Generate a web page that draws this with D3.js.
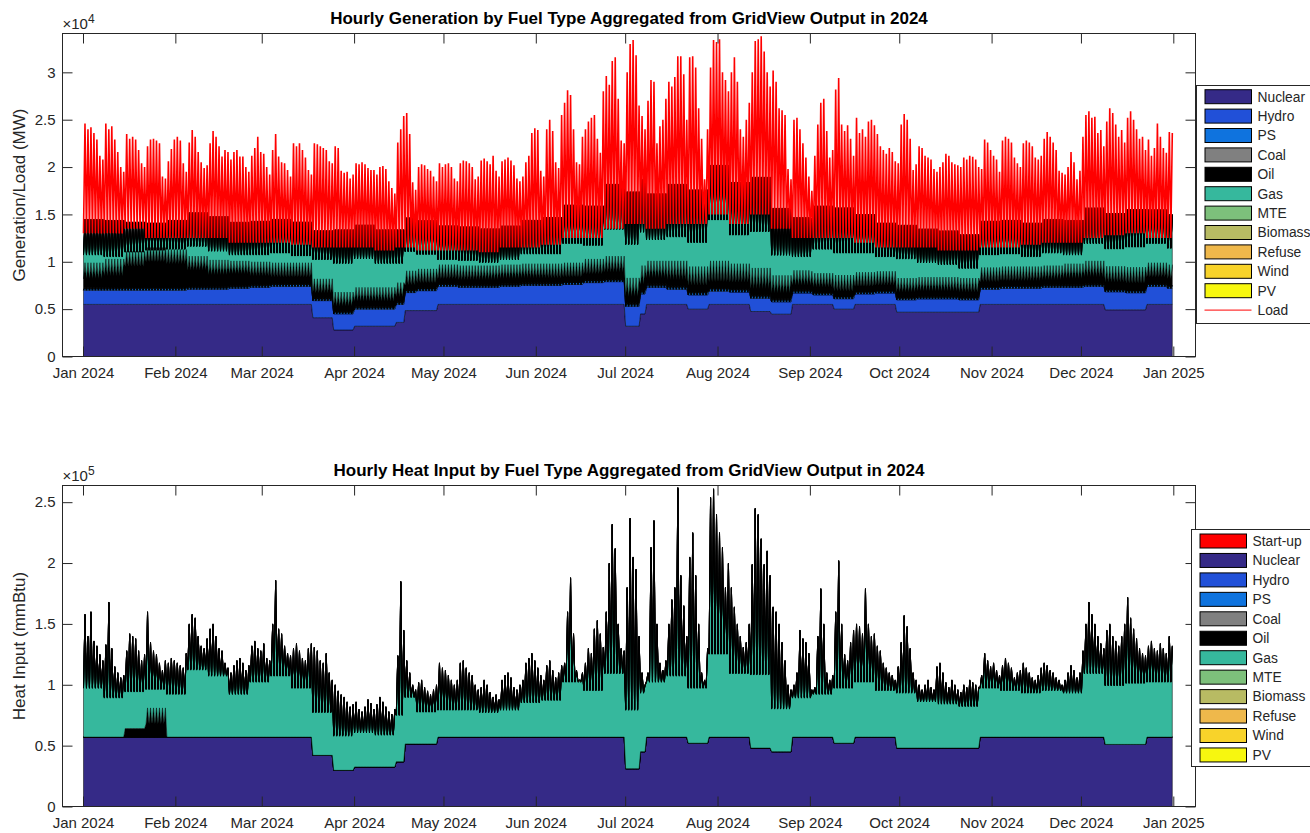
<!DOCTYPE html>
<html>
<head>
<meta charset="utf-8">
<script src="https://cdn.jsdelivr.net/npm/d3@7"></script>
<style>
  body { margin: 0; background: #fff; }
  svg { font-family: "Liberation Sans", Arial, Helvetica, sans-serif; }
</style>
</head>
<body>
<svg id="chart" width="1310" height="833"></svg>
<script>
/********** the Data **********/
// fuel order as stacked by GridView post-processing
let genFuels = ["Nuclear", "Hydro", "PS", "Coal", "Oil", "Gas", "MTE", "Biomass", "Refuse", "Wind", "PV"];
let heatFuels = ["Start-up", "Nuclear", "Hydro", "PS", "Coal", "Oil", "Gas", "MTE", "Biomass", "Refuse", "Wind", "PV"];

// nuclear fleet level: [day of year, MW, thousand mmBtu]
let nuclearSteps = [
  [0, 5500, 57], [76.8, 4100, 42], [83.8, 2800, 29.7], [90.8, 3200, 32.5],
  [105, 3600, 36.7], [108, 4850, 51.4], [118.8, 5500, 57],
  [181.8, 3200, 31], [186.8, 4500, 45], [189, 5500, 57],
  [202.9, 5000, 52], [210, 5500, 57], [224, 4750, 48], [231, 4470, 45],
  [238, 5500, 57], [252, 5000, 52], [259, 5500, 57], [272.9, 4680, 48],
  [301, 5500, 57], [343, 4930, 51], [357, 5500, 57]
];

// daily peak load, hundreds of MW (one row per month)
let loadPeakByMonth = [
  [246,240,242,236,229,212,208,246,240,243,229,216,200,195,235,230,232,229,218,204,200,222,229,230,228,225,190,188,206,219,229],
  [232,228,204,195,226,239,232,216,205,199,202,225,238,232,222,211,218,216,208,216,218,211,211,200,195,212,220,232,216],
  [214,200,192,218,235,211,205,204,197,190,225,222,225,218,210,197,192,225,224,222,220,218,206,204,222,220,196,194,195,188,192],
  [204,203,205,203,199,197,197,192,200,201,198,185,178,172,226,240,254,257,235,184,176,200,203,202,198,196,190,185,204,200],
  [203,204,200,188,185,204,207,206,204,200,187,190,207,209,206,203,212,196,190,206,208,210,207,202,188,185,190,205,212,236,241],
  [239,196,190,240,250,238,205,199,255,268,281,276,240,205,203,232,240,248,252,255,230,215,280,296,287,312,316,272,228,225],
  [300,330,334,318,265,254,240,270,292,290,225,243,250,272,290,285,295,317,317,298,250,316,317,305,262,230,187,240,305,334,332],
  [335,300,292,280,300,316,290,240,232,250,268,300,333,335,338,322,300,285,302,290,262,260,255,198,187,250,252,240,225,210,190],
  [175,212,245,268,272,238,210,218,282,294,245,238,244,230,212,252,236,240,232,248,250,244,235,222,218,214,220,216,206,204],
  [245,256,250,230,197,203,222,220,212,210,208,198,195,200,205,214,212,205,203,202,200,210,208,212,211,208,200,198,229,226,218],
  [212,208,195,228,232,230,226,210,204,200,225,228,226,222,210,208,212,230,237,232,226,218,196,194,192,200,216,205,187,196],
  [232,255,259,252,253,236,239,222,248,262,257,245,232,239,226,252,259,250,240,230,232,218,229,212,220,246,232,220,215,237,236]
];

// daily peak total heat input, thousand mmBtu
let heatPeakByMonth = [
  [158,140,160,136,132,125,120,133,168,130,115,110,106,108,128,142,140,138,128,120,125,160,135,128,125,118,112,120,118,122,120],
  [118,116,114,126,150,158,155,140,132,130,138,146,150,140,130,128,118,114,110,116,120,122,118,112,116,132,136,130,128],
  [134,122,120,150,186,146,142,132,126,124,130,134,128,122,120,130,134,131,128,120,118,126,110,104,100,95,92,90,86,82,84],
  [86,80,78,82,88,85,80,84,90,86,82,78,76,80,124,185,145,120,110,100,96,102,104,98,95,92,96,100,118,114],
  [112,108,104,100,104,118,120,114,110,108,100,96,98,104,100,94,90,92,88,104,108,110,106,98,96,100,104,118,122,126,120],
  [114,108,104,116,120,112,106,110,116,118,160,188,142,112,104,110,118,130,126,146,153,142,131,160,200,232,212,150,130,128],
  [180,237,205,195,140,110,100,110,213,235,150,118,112,120,150,170,180,262,190,165,140,205,225,190,150,110,104,130,254,261,240],
  [225,213,180,200,180,164,150,140,131,135,150,199,245,240,220,199,210,190,164,160,150,135,120,100,96,100,110,145,138,135,126],
  [96,98,140,179,150,110,104,108,160,202,150,125,120,135,145,150,148,142,179,150,140,142,132,128,118,114,110,108,104,115],
  [135,157,148,130,110,104,100,96,100,104,98,96,115,118,110,102,98,104,100,96,94,100,98,104,102,100,98,108,126,120,115],
  [118,112,108,116,122,118,114,106,110,112,118,114,110,106,104,108,114,118,116,112,110,106,104,100,104,110,116,112,106,110],
  [128,150,168,158,150,140,134,130,145,150,140,136,132,140,150,172,155,146,138,130,126,124,132,136,130,128,134,130,126,140,132]
];

// weekly values (53 weeks), thousand MW
let hydroMW     = [1.5,1.5,1.5,1.5, 1.5,1.6,1.6,1.7, 1.8,1.9,1.9,1.8, 1.7,1.8,1.8,1.9,2.1, 1.9,1.8,1.8,1.9,2.0, 2.0,2.1,2.3,2.4, 2.1,1.8,1.6,1.5, 1.4,1.3,1.4,1.3,1.2, 1.0,1.1,1.1,1.2, 1.3,1.4,1.4,1.3, 1.6,1.7,1.7,1.8,1.8, 1.9,1.9,1.8,1.9,1.7];
let oilNightMW  = [1.2,1.5,2.5,3.0, 2.8,2.0,1.5,1.5, 1.2,1.0,1.0,0.8, 0.8,0.8,0.8,0.8,0.8, 0.8,0.8,0.8,0.8,0.8, 0.8,0.8,0.9,1.0, 1.0,1.0,1.0,1.0, 1.0,1.0,1.0,0.9,0.8, 0.8,0.8,0.8,0.8, 0.8,0.8,0.8,0.8, 0.8,0.8,0.8,0.8,0.9, 1.0,1.0,1.0,1.0,1.0];
let oilPeakMW   = [2.6,3.0,3.8,4.2, 4.0,3.2,2.8,2.6, 2.4,2.2,2.2,2.0, 2.0,2.0,2.0,2.0,2.0, 2.0,2.0,2.0,2.0,2.0, 2.0,2.0,2.2,2.4, 2.6,2.4,2.6,2.6, 2.8,2.6,2.8,2.4,2.0, 2.0,2.2,2.0,2.0, 2.0,2.0,2.0,2.0, 2.0,2.0,2.0,2.0,2.2, 2.4,2.4,2.4,2.2,2.2];
let gasNightMW  = [2.5,2.0,1.5,1.2, 1.5,2.5,2.5,2.0, 2.2,2.5,2.2,3.5, 4.5,4.5,4.0,3.5,3.0, 2.0,2.0,1.8,2.0,2.5, 2.5,3.5,3.0,4.5, 5.5,4.0,4.5,4.5, 6.5,5.0,6.0,4.0,3.0, 4.0,4.0,3.5,3.0, 3.5,3.0,2.8,2.5, 2.8,2.8,2.5,2.8,2.5, 3.5,3.5,3.8,3.5,3.2];
let gasPeakMW   = [4.5,4.0,3.0,2.5, 3.0,4.5,4.5,4.0, 4.2,4.5,4.2,5.0, 6.5,6.5,6.0,5.5,5.0, 4.0,4.0,3.8,4.0,4.5, 4.8,6.0,5.5,7.5, 9.0,7.0,8.0,8.0, 10.0,8.5,9.5,7.0,5.5, 7.0,7.0,6.0,5.0, 5.5,5.0,4.8,4.5, 4.8,4.8,4.5,4.8,4.5, 5.5,5.5,6.0,5.5,5.2];
let loadLowMW   = [13.0,13.0,13.5,12.5, 12.5,12.5,12.5,12.0, 12.0,12.0,11.8,11.5, 11.5,11.5,11.2,11.5,11.2, 11.2,11.2,11.0,11.5,11.5, 11.8,12.5,12.5,13.5, 14.0,13.5,14.0,14.0, 15.0,14.0,15.0,13.5,12.5, 12.5,12.5,12.0,11.5, 11.5,11.5,11.2,11.2, 11.5,11.5,11.8,12.0,12.0, 12.5,12.8,13.0,12.5,12.5];

// weekly overnight gas heat input, thousand mmBtu
let gasHeatNight = [40,32,30,28,35, 55,50,35,45,50, 40,35,28,28,26, 38,26,22,22,20, 22,28,30,45,38, 52,48,45,50,45, 68,52,60,35,32, 35,45,45,38,45, 38,36,34,40,38, 36,38,36,52,48, 50,45,45];
// oil burn weeks: [week, night, peak], thousand mmBtu
let oilHeatWeeks = [[2, 7, 7], [3, 11, 24]];

// small fuels, monthly, MW (PS and PV only in daytime peak)
let psPeakMW  = [300,300,300,300,300,300,400,400,300,300,300,300];
let coalMW    = [0,0,0,0,0,0,0,0,0,0,0,0];
let mteMW     = [30,30,30,30,30,30,30,30,30,30,30,30];
let biomassMW = [20,20,20,20,20,20,20,20,20,20,20,20];
let refuseMW  = [40,40,40,40,40,40,40,40,40,40,40,40];
let windMW    = [20,20,20,15,15,10,10,10,15,20,20,20];
let pvMW      = [10,15,20,25,30,30,30,30,25,20,15,10];
// small fuels heat input, monthly, thousand mmBtu
let startupHeat = [0,0,0,0,0,0,0,0,0,0,0,0];
let coalHeat    = [0,0,0,0,0,0,0,0,0,0,0,0];
let mteHeat     = [0.3,0.3,0.3,0.3,0.3,0.3,0.3,0.3,0.3,0.3,0.3,0.3];
let biomassHeat = [0.2,0.2,0.2,0.2,0.2,0.2,0.2,0.2,0.2,0.2,0.2,0.2];
let refuseHeat  = [0.5,0.5,0.5,0.5,0.5,0.5,0.5,0.5,0.5,0.5,0.5,0.5];

let fuelColors = {
  "Start-up": "#ff0000", "Nuclear": "#352a87", "Hydro": "#2150d8", "PS": "#0f73de",
  "Coal": "#808080", "Oil": "#000000", "Gas": "#36b89d", "MTE": "#7dc07b",
  "Biomass": "#b8bb63", "Refuse": "#efb84b", "Wind": "#f8d32a", "PV": "#f7f70f"
};

/********** build hourly-sample tables **********/
const DAY = 864e5;
const start = Date.UTC(2024, 0, 1);
const sampleHours = [4, 16]; // overnight trough, afternoon peak

let loadPeak = loadPeakByMonth.flat().map(v => v * 100);
let heatPeak = heatPeakByMonth.flat().map(v => v * 1000);

function nuclearAt(day, col) {
  let v = nuclearSteps[0][col];
  nuclearSteps.forEach(s => { if (s[0] <= day) v = s[col]; });
  return v;
}

let genRows = [], loadPts = [], heatRows = [];
d3.range(366).forEach(d => {
  let w = Math.floor(d / 7);
  let m = new Date(start + d * DAY).getUTCMonth();
  [0, 1].forEach(p => {
    let day = d + sampleHours[p] / 24;
    let t = new Date(start + day * DAY);
    genRows.push({
      t: t,
      Nuclear: nuclearAt(day, 1),
      Hydro: hydroMW[w] * 1000,
      PS: p ? psPeakMW[m] : 0,
      Coal: coalMW[m],
      Oil: (p ? oilPeakMW : oilNightMW)[w] * 1000,
      Gas: (p ? gasPeakMW : gasNightMW)[w] * 1000,
      MTE: mteMW[m], Biomass: biomassMW[m], Refuse: refuseMW[m], Wind: windMW[m],
      PV: p ? pvMW[m] : 0
    });
    loadPts.push({t: t, v: p ? loadPeak[d] : loadLowMW[w] * 1000});

    let ow = oilHeatWeeks.find(o => o[0] === w);
    let oil = ow ? ow[1 + p] * 1000 : 0;
    let nuc = nuclearAt(day, 2) * 1000;
    let minor = (startupHeat[m] + coalHeat[m] + mteHeat[m] + biomassHeat[m] + refuseHeat[m]) * 1000;
    heatRows.push({
      t: t,
      "Start-up": startupHeat[m] * 1000,
      Nuclear: nuc, Hydro: 0, PS: 0,
      Coal: coalHeat[m] * 1000,
      Oil: oil,
      Gas: p ? heatPeak[d] - nuc - oil - minor : gasHeatNight[w] * 1000,
      MTE: mteHeat[m] * 1000, Biomass: biomassHeat[m] * 1000, Refuse: refuseHeat[m] * 1000,
      Wind: 0, PV: 0
    });
  });
});

/********** drawPanel function **********/
let svg = d3.select("#chart");
let left = 62.5, right = 1195.5;
let pxPerDay = (1173.3 - 83) / 366;
let x = d3.scaleUtc()
  .domain([new Date(start - (83 - left) / pxPerDay * DAY),
           new Date(Date.UTC(2025, 0, 1) + (right - 1173.3) / pxPerDay * DAY)])
  .range([left, right]);

function drawPanel(o) {
  let y = d3.scaleLinear().domain([0, o.yMax]).range([o.bottom, o.top]);
  let g = svg.append("g");
  let clipId = "clip" + o.id;
  g.append("clipPath").attr("id", clipId)
    .append("rect").attr("x", left).attr("y", o.top).attr("width", right - left).attr("height", o.bottom - o.top);

  let plot = g.append("g").attr("clip-path", `url(#${clipId})`);
  let series = d3.stack().keys(o.keys)(o.rows);
  let area = d3.area()
    .x(d => x(d.data.t))
    .y0(d => y(d[0]))
    .y1(d => y(d[1]));
  plot.selectAll("path.layer")
    .data(series)
    .join("path")
      .attr("class", "layer")
      .attr("d", area)
      .attr("fill", s => fuelColors[s.key])
      .attr("stroke", "#000")
      .attr("stroke-width", 0.5);

  if (o.load) {
    plot.append("path")
      .datum(o.load)
      .attr("d", d3.line().x(d => x(d.t)).y(d => y(d.v)))
      .attr("fill", "none")
      .attr("stroke", "#ff0000")
      .attr("stroke-width", 1.6);
  }

  // axes, MATLAB style: ticks inside, box on
  let ink = "#262626";
  let monthTicks = d3.utcMonth.every(1);
  g.append("g").attr("transform", `translate(0,${o.bottom})`)
    .call(d3.axisBottom(x).ticks(monthTicks).tickFormat(d3.utcFormat("%b %Y")).tickSize(-10).tickPadding(11));
  g.append("g").attr("transform", `translate(0,${o.top})`)
    .call(d3.axisTop(x).ticks(monthTicks).tickFormat("").tickSize(-10));
  g.append("g").attr("transform", `translate(${left},0)`)
    .call(d3.axisLeft(y).tickValues(o.yTicks).tickFormat(v => v / o.scale).tickSize(-10).tickPadding(7));
  g.append("g").attr("transform", `translate(${right},0)`)
    .call(d3.axisRight(y).tickValues(o.yTicks).tickFormat("").tickSize(-10));
  g.selectAll(".domain").remove();
  g.selectAll(".tick line").attr("stroke", ink);
  g.selectAll(".tick text").attr("fill", ink).style("font-size", "15px");
  g.append("rect")
    .attr("x", left).attr("y", o.top).attr("width", right - left).attr("height", o.bottom - o.top)
    .attr("fill", "none").attr("stroke", ink);

  // exponent
  let ex = g.append("text").attr("x", left).attr("y", o.top - 5).attr("fill", ink).style("font-size", "15px");
  ex.append("tspan").text("\u00d710");
  ex.append("tspan").attr("dy", -6).style("font-size", "12px").text(o.expo);

  g.append("text")
    .attr("x", (left + right) / 2).attr("y", o.top - 10)
    .attr("text-anchor", "middle").attr("fill", "#000")
    .style("font-size", "17px").style("font-weight", "bold")
    .text(o.title);

  g.append("text")
    .attr("transform", `translate(25,${(o.top + o.bottom) / 2}) rotate(-90)`)
    .attr("text-anchor", "middle").attr("fill", ink)
    .style("font-size", "17px")
    .text(o.ylabel);

  // legend
  let lg = g.append("g");
  let entries = o.legend;
  lg.append("rect")
    .attr("x", o.legX).attr("y", o.legTop).attr("width", 160).attr("height", o.legBottom - o.legTop)
    .attr("fill", "#fff").attr("stroke", ink);
  entries.forEach((k, i) => {
    let cy = o.legY0 + i * o.legStep;
    if (k === "Load") {
      lg.append("line").attr("x1", o.legX + 8).attr("x2", o.legX + 55).attr("y1", cy).attr("y2", cy)
        .attr("stroke", "#ff0000").attr("stroke-width", 1);
    } else {
      lg.append("rect").attr("x", o.legX + 8.5).attr("y", cy - 7).attr("width", 46.5).attr("height", 14)
        .attr("fill", fuelColors[k]).attr("stroke", "#000").attr("stroke-width", 1);
    }
    lg.append("text").attr("x", o.legX + 61).attr("y", cy).attr("dy", "0.35em")
      .attr("fill", ink).style("font-size", "13.8px").text(k);
  });
}

drawPanel({
  id: 1, top: 33.5, bottom: 356.5, yMax: 34100,
  yTicks: d3.range(0, 30001, 5000), scale: 1e4, expo: "4",
  rows: genRows, keys: genFuels, load: loadPts,
  title: "Hourly Generation by Fuel Type Aggregated from GridView Output in 2024",
  ylabel: "Generation/Load (MW)",
  legend: genFuels.concat(["Load"]),
  legX: 1196.5, legTop: 85.5, legBottom: 323.5, legY0: 96.7, legStep: 19.4
});

drawPanel({
  id: 2, top: 485.5, bottom: 806.5, yMax: 263700,
  yTicks: d3.range(0, 250001, 50000), scale: 1e5, expo: "5",
  rows: heatRows, keys: heatFuels, load: null,
  title: "Hourly Heat Input by Fuel Type Aggregated from GridView Output in 2024",
  ylabel: "Heat Input (mmBtu)",
  legend: heatFuels,
  legX: 1191.5, legTop: 529.5, legBottom: 766.5, legY0: 541, legStep: 19.45
});
</script>
</body>
</html>
